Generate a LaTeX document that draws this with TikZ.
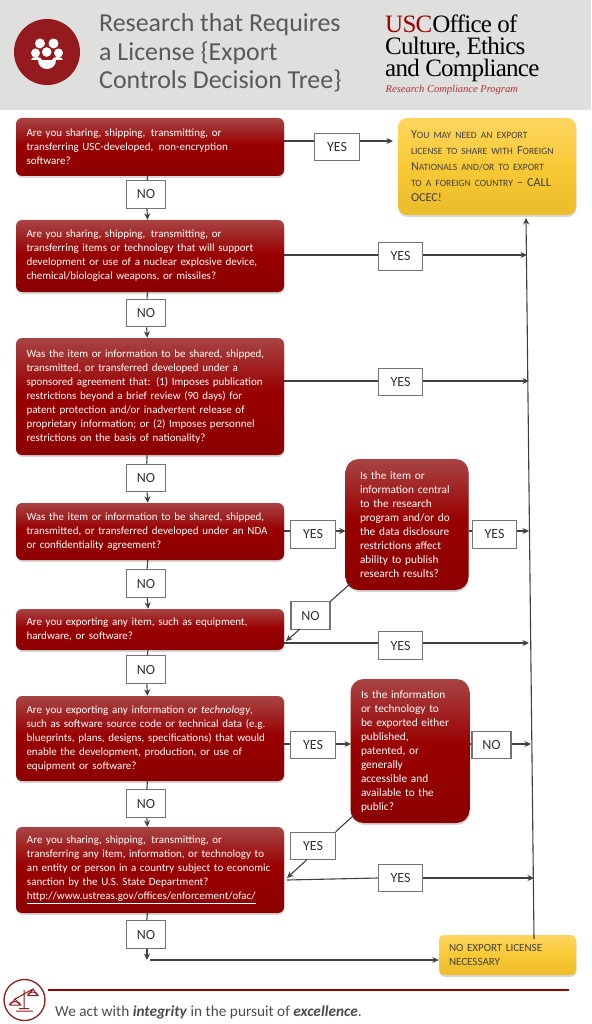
\documentclass[tikz,border=0pt]{standalone}
\usepackage{fontspec}
\setmainfont{Carlito}
\newfontfamily\logofont{Liberation Serif}
\usetikzlibrary{arrows.meta, shadows}
\definecolor{qtop}{HTML}{A84444}
\definecolor{qmid}{HTML}{990000}
\definecolor{qbot}{HTML}{8C0000}
\definecolor{atop}{HTML}{FDD55F}
\definecolor{amid}{HTML}{F9C935}
\definecolor{abot}{HTML}{EBBB2A}
\definecolor{uscred}{HTML}{941A1D}
\definecolor{headgray}{HTML}{DFDFDD}
\pgfdeclareverticalshading{qshade}{100bp}{color(0bp)=(qbot); color(25bp)=(qbot); color(52bp)=(qmid); color(75bp)=(qtop); color(100bp)=(qtop)}
\pgfdeclareverticalshading{ashade}{100bp}{color(0bp)=(abot); color(25bp)=(abot); color(50bp)=(amid); color(75bp)=(atop); color(100bp)=(atop)}
\newcommand{\lc}[1]{{\fontsize{9.6}{15.8}\selectfont #1}}
\begin{document}
\begin{tikzpicture}[x=1pt, y=-1pt,
    every node/.style={font=\fontsize{11}{14}\selectfont},
    line/.style={draw=black!75, line width=1.1pt},
    arr/.style={line, -{Stealth[length=6.5pt, width=6pt]}},
    qbox/.style={shading=qshade, rounded corners=6pt, text=white, align=left, inner xsep=10.5pt, inner ysep=0pt, drop shadow={shadow xshift=0.5pt, shadow yshift=-2pt, opacity=0.3}},
    sbox/.style={qbox, rounded corners=13pt, font=\fontsize{11.3}{14}\selectfont},
    abox/.style={shading=ashade, rounded corners=9pt, text=black!75, align=left, inner ysep=0pt, drop shadow={shadow xshift=0.5pt, shadow yshift=-2pt, opacity=0.3}},
    ans/.style={draw=black!55, line width=1.1pt, fill=white, text=black!80, inner sep=0pt, minimum height=27.5pt, font=\fontsize{14}{16}\selectfont},
    yes/.style={ans, minimum width=44.5pt},
    no/.style={ans, minimum width=39pt},
  ]
  \useasboundingbox (0,0) rectangle (591,1024);
  % header
  \fill[headgray] (0,0) rectangle (591,110);
  \fill[uscred] (47,52) circle (33);
  \fill[white] (40,43.5) circle (5) (53.5,43.5) circle (5) (35.5,53) circle (4.5) (58.5,53) circle (4.5);
  \fill[white] (30.5,60.5) .. controls (30.5,56) and (42,56) .. (42,60.5) -- cycle;
  \fill[white] (52,60.5) .. controls (52,56) and (63,56) .. (63,60.5) -- cycle;
  \fill[uscred] (46.7,52) circle (6.3);
  \fill[white] (46.7,52) circle (4.8);
  \fill[white] (38,60) -- (55.5,60) .. controls (55.5,72) and (38,72) .. (38,60) -- cycle;
  \node[anchor=base west, inner sep=0pt, align=left, text=black!65, font=\fontsize{25.9}{28.5}\selectfont] (title) at (99,89) {Research that Requires\\a License \{Export\\Controls Decision Tree\}};
  \node[anchor=base west, inner sep=0pt, align=left, font=\logofont\fontsize{25}{22}\selectfont\addfontfeature{LetterSpace=-3}] (logo) at (385,77) {\textcolor{qmid}{USC}Office of\\Culture, Ethics\\and Compliance};
  \node[anchor=base west, inner sep=0pt, text=qmid!80, font=\logofont\itshape\fontsize{10.5}{12}\selectfont] (program) at (385.5,93) {Research Compliance Program};
  % questions
  \node[qbox, text width=247pt, minimum height=58pt] (q1) at (150,147) {Are you sharing, shipping,\, transmitting, or\\transferring USC-developed,\, non-encryption\\software?};
  \node[qbox, text width=247pt, minimum height=72pt] (q2) at (150,256) {Are you sharing, shipping,\, transmitting, or\\transferring items or technology that will support\\development or use of a nuclear explosive device,\\chemical/biological weapons, or missiles?};
  \node[qbox, text width=247pt, minimum height=117pt] (q3) at (150,396.5) {Was the item or information to be shared, shipped,\\transmitted, or transferred developed under a\\sponsored agreement that: (1) Imposes publication\\restrictions beyond a brief review (90 days) for\\patent protection and/or inadvertent release of\\proprietary information; or (2) Imposes personnel\\restrictions on the basis of nationality?};
  \node[qbox, text width=247pt, minimum height=57pt] (q4) at (150,531.5) {Was the item or information to be shared, shipped,\\transmitted, or transferred developed under an NDA\\or confidentiality agreement?};
  \node[qbox, text width=247pt, minimum height=41pt] (q5) at (150,629.5) {Are you exporting any item, such as equipment,\\hardware, or software?};
  \node[qbox, text width=247pt, minimum height=85pt] (q6) at (150,738.5) {Are you exporting any information or \textit{technology},\\such as software source code or technical data (e.g.\\blueprints, plans, designs, specifications) that would\\enable the development, production, or use of\\equipment or software?};
  \node[qbox, text width=246pt, inner xsep=11pt, minimum height=86pt] (q7) at (150,870) {Are you sharing, shipping,\, transmitting, or\\transferring any item, information, or technology to\\an entity or person in a country subject to economic\\sanction by the U.S. State Department?\\\underline{http://www.ustreas.gov/offices/enforcement/ofac/}};
  \node[sbox, text width=94pt, inner xsep=14.5pt, minimum height=131pt] (s1) at (407,524.5) {Is the item or\\information central\\to the research\\program and/or do\\the data disclosure\\restrictions affect\\ability to publish\\research results?};
  \node[sbox, text width=98pt, minimum height=144pt] (s2) at (410,751) {Is the information\\or technology to\\be exported either\\published,\\patented, or\\generally\\accessible and\\available to the\\public?};
  % outcomes
  \node[abox, text width=152pt, inner xsep=13pt, minimum height=97pt, font=\fontsize{12.2}{15.8}\selectfont] (r1) at (487,166.5) {Y\lc{OU MAY NEED AN EXPORT}\\\lc{LICENSE TO SHARE WITH} F\lc{OREIGN}\\N\lc{ATIONALS AND/OR TO EXPORT}\\\lc{TO A FOREIGN COUNTRY} -- CALL\\OCEC!};
  \node[abox, rounded corners=5pt, text width=117pt, inner xsep=10pt, minimum height=40pt] (r2) at (507.5,955) {NO EXPORT LICENSE\\NECESSARY};
  % answers
  \node[yes] (y1) at (337,147) {YES};
  \node[yes] (y2) at (400.5,256.5) {YES};
  \node[yes] (y3) at (400.5,382) {YES};
  \node[yes] (y4) at (313,534.5) {YES};
  \node[yes] (y5) at (494.5,534.5) {YES};
  \node[yes] (y6) at (400.5,645.5) {YES};
  \node[yes] (y7) at (313,745) {YES};
  \node[yes] (y8) at (313,846) {YES};
  \node[yes] (y9) at (400.5,878) {YES};
  \node[no] (n1) at (146,194.5) {NO};
  \node[no] (n2) at (146,313) {NO};
  \node[no] (n3) at (146,478) {NO};
  \node[no] (n4) at (146,583.5) {NO};
  \node[no] (n5) at (146,669.5) {NO};
  \node[no] (n6) at (146,803.5) {NO};
  \node[no] (n7) at (146,934.5) {NO};
  \node[no] (n8) at (310.5,615.5) {NO};
  \node[no] (n9) at (491.5,745) {NO};
  % trunk
  \coordinate (j1) at (393,141);
  \coordinate (j2) at (527,255);
  \coordinate (j3) at (529,381);
  \coordinate (j4) at (345.6,531);
  \coordinate (j5) at (529,531);
  \coordinate (j6) at (529,643);
  \coordinate (j7) at (351,744);
  \coordinate (j8) at (531,744);
  \coordinate (j9) at (534,878);
  \coordinate (top) at (526,218);
  \coordinate (e5) at (286,641);
  \coordinate (e7) at (287,878);
  \coordinate (c7) at (147,960);
  \draw[line] (q1.east|-j1) -- (y1.west|-j1);
  \draw[arr] (y1.east|-j1) -- (j1);
  \draw[line] (q2.east|-j2) -- (y2.west|-j2);
  \draw[arr] (y2.east|-j2) -- (j2);
  \draw[line] (q3.east|-j3) -- (y3.west|-j3);
  \draw[arr] (y3.east|-j3) -- (j3);
  \draw[line] (q4.east|-j4) -- (y4.west|-j4);
  \draw[arr] (y4.east|-j4) -- (j4);
  \draw[line] (s1.east|-j5) -- (y5.west|-j5);
  \draw[arr] (y5.east|-j5) -- (j5);
  \draw[line] (q5.east|-j6) -- (y6.west|-j6);
  \draw[arr] (y6.east|-j6) -- (j6);
  \draw[line] (q6.east|-j7) -- (y7.west|-j7);
  \draw[arr] (y7.east|-j7) -- (j7);
  \draw[line] (s2.east|-j8) -- (n9.west|-j8);
  \draw[arr] (n9.east|-j8) -- (j8);
  \draw[line] (287,880) -- (y9.west|-j9);
  \draw[arr] (y9.east|-j9) -- (j9);
  \draw[line] (351,583) -- (n8.north east);
  \draw[arr] (300,629) -- (e5);
  \draw[line] (354,815) -- (y8.north east);
  \draw[arr] (307,859.5) -- (e7);
  \draw[line] (q1) -- (n1);
  \draw[arr] (n1) -- (q2);
  \draw[line] (q2) -- (n2);
  \draw[arr] (n2) -- (q3);
  \draw[line] (q3) -- (n3);
  \draw[arr] (n3) -- (q4);
  \draw[line] (q4) -- (n4);
  \draw[arr] (n4) -- (q5);
  \draw[line] (q5) -- (n5);
  \draw[arr] (n5) -- (q6);
  \draw[line] (q6) -- (n6);
  \draw[arr] (n6) -- (q7);
  \draw[line] (q7) -- (n7);
  \draw[arr] (n7.south-|c7) -- (c7);
  \draw[arr, line width=1.5pt] (150,960) -- (r2.west|-c7);
  \draw[arr] (534,939) -- (top);
  % footer
  \draw[qmid, line width=1.2pt] (48,990) -- (569,990);
  \draw[uscred, line width=1.3pt] (24.5,1000) circle (20.5);
  \draw[uscred, line width=1pt] (15,999) -- (33,989) (24,990) -- (24,1009) (19,1008.5) -- (29,1008.5) (16,1011) -- (33,1011)
    (10,1005) -- (15,999) -- (20,1005) (28,995.5) -- (33,989) -- (37.5,995.5);
  \draw[uscred, line width=1pt] (9.5,1005) -- (20.5,1005) arc (0:180:5.5 and -3.5) (27.5,995.5) -- (38,995.5) arc (0:180:5.25 and -3.5);
  \node[anchor=base west, inner sep=0pt, text=black!70, font=\fontsize{15.3}{17}\selectfont] (motto) at (55,1016) {We act with \textbf{\textit{integrity}} in the pursuit of \textbf{\textit{excellence}}.};
\end{tikzpicture}
\end{document}
